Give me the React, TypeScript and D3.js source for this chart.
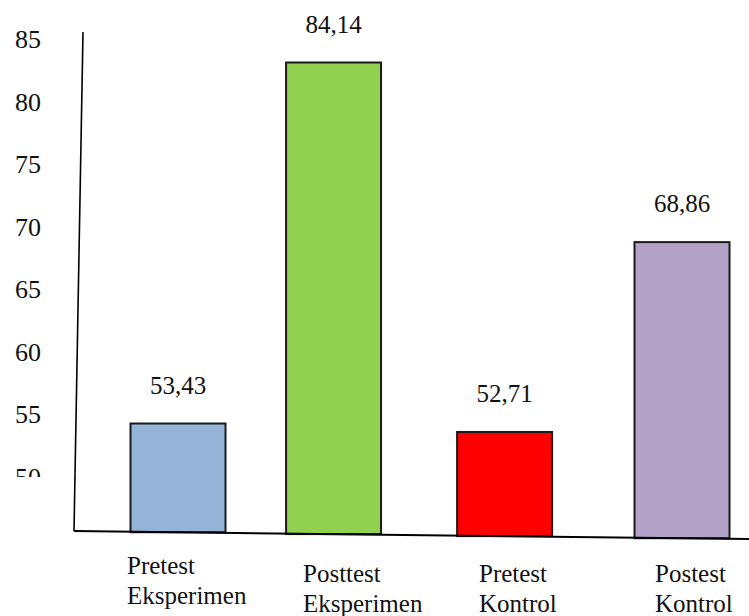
import * as d3 from "d3";

const WIDTH = 749;
const HEIGHT = 616;

// data
const CATEGORIES = [
  ["Pretest", "Eksperimen"],
  ["Posttest", "Eksperimen"],
  ["Pretest", "Kontrol"],
  ["Postest", "Kontrol"],
];
const VALUES = [53.43, 84.14, 52.71, 68.86];
const VALUE_LABELS = ["53,43", "84,14", "52,71", "68,86"];
const COLORS = ["#95b3d7", "#92d050", "#ff0000", "#b2a2c7"];
const TICKS = [50, 55, 60, 65, 70, 75, 80, 85];

const FONT =
  '"Liberation Serif", "Times New Roman", Times, "DejaVu Serif", serif';
const BAR_WIDTH = 95;

export default function App() {
  // bar heights (the drawn bars follow their own scale, not the tick labels)
  const yBar = d3.scaleLinear().domain([45, 85]).range([522.6, 52.4]);
  // tick label baselines
  const yTick = d3.scaleLinear().domain([50, 85]).range([486, 48]);
  // bar centres get slightly wider apart to the right
  const xBar = d3.scalePow().exponent(1.07).domain([0, 3]).range([178, 682]);
  const xLabel = d3.scaleLinear().domain([0, 3]).range([127, 655]);
  // the base line is tilted
  const baseY = d3.scaleLinear().domain([74, 749]).range([531, 539]);

  const bars = VALUES.map((v, i) => {
    const cx = xBar(i);
    const top = yBar(v);
    const bottom = baseY(cx);
    return (
      <g key={i}>
        <rect
          x={cx - BAR_WIDTH / 2}
          y={top}
          width={BAR_WIDTH}
          height={bottom - top}
          fill={COLORS[i]}
          stroke="#1a1a1a"
          strokeWidth={2}
        />
        <text x={cx} y={top - 30} textAnchor="middle" fontSize={25} fill="#111">
          {VALUE_LABELS[i]}
        </text>
      </g>
    );
  });

  const labels = CATEGORIES.map((lines, i) => (
    <text key={i} x={xLabel(i)} y={i === 0 ? 574 : 582} fontSize={25} fill="#111">
      {lines.map((l, j) => (
        <tspan key={j} x={xLabel(i)} dy={j === 0 ? 0 : 29.5}>
          {l}
        </tspan>
      ))}
    </text>
  ));

  const ticks = TICKS.map((t) => (
    <text
      key={t}
      x={41}
      y={yTick(t)}
      textAnchor="end"
      fontSize={26}
      fill="#111"
      clipPath="url(#tickclip)"
    >
      {t}
    </text>
  ));

  return (
    <svg
      width={WIDTH}
      height={HEIGHT}
      fontFamily={FONT}
      style={{ position: "absolute", left: 0, top: 0, background: "#fff" }}
    >
      <defs>
        <clipPath id="tickclip">
          <rect x={0} y={0} width={70} height={477} />
        </clipPath>
      </defs>
      <g>{ticks}</g>
      <line x1={83} y1={32} x2={74} y2={531} stroke="#000" strokeWidth={1.6} />
      <g>{bars}</g>
      <line
        x1={74}
        y1={baseY(74)}
        x2={749}
        y2={baseY(749)}
        stroke="#000"
        strokeWidth={2}
      />
      <g>{labels}</g>
    </svg>
  );
}
